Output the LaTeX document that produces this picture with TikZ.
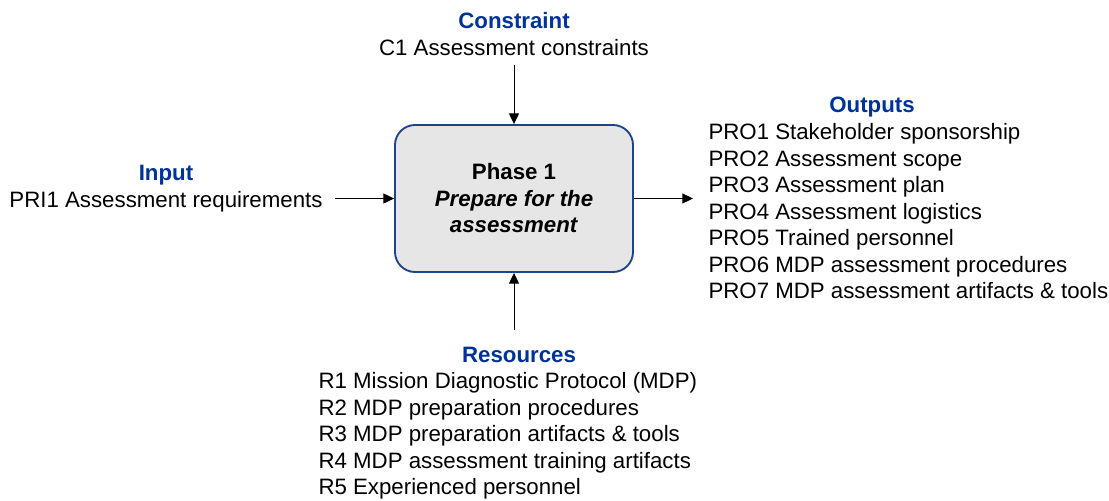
\documentclass[tikz,border=0pt]{standalone}
\usepackage{fontspec}
\setmainfont{Liberation Sans}
\usetikzlibrary{arrows.meta}
\definecolor{headblue}{RGB}{0,51,153}
\definecolor{boxblue}{RGB}{28,68,135}
\definecolor{boxgray}{RGB}{230,230,230}

\tikzset{every picture/.style={line width=0.75pt}}

\begin{document}
\begin{tikzpicture}[x=0.75pt,y=0.75pt,yscale=-1,xscale=1,
	font=\fontsize{16.7}{19.9}\selectfont,
	head/.style={text=headblue, font=\fontsize{16.7}{19.9}\selectfont\bfseries, inner sep=0pt, anchor=base},
	item/.style={inner sep=0pt, anchor=base},
	itemlist/.style={inner sep=0pt, anchor=north west, align=left},
	phasebox/.style={draw=boxblue, fill=boxgray, line width=1.4pt, rounded corners=15pt, minimum width=178.5pt, minimum height=110.25pt, align=center, inner sep=0pt},
	flow/.style={-{Triangle[length=8pt,width=7.5pt]}}]
	\useasboundingbox (0,0) rectangle (1109,500);

	% Phase box
	\node[phasebox] (phase) at (514,198.5) {\textbf{Phase 1}\\\textbf{\textit{Prepare for the}}\\\textbf{\textit{assessment}}};

	% Text Node
	\node[head] (conhead) at (514,28) {Constraint};
	% Text Node
	\node[item] (conlist) at (514,55) {C1 Assessment constraints};
	% Text Node
	\node[head] (inhead) at (166,180) {Input};
	% Text Node
	\node[item] (inlist) at (166,207) {PRI1 Assessment requirements};
	% Text Node
	\node[head] (outhead) at (872,112) {Outputs};
	% Text Node
	\node[itemlist] (outlist) at (708,123) {PRO1 Stakeholder sponsorship\\PRO2 Assessment scope\\PRO3 Assessment plan\\PRO4 Assessment logistics\\PRO5 Trained personnel\\PRO6 MDP assessment procedures\\PRO7 MDP assessment artifacts \& tools};
	% Text Node
	\node[head] (reshead) at (519,362) {Resources};
	% Text Node
	\node[itemlist] (reslist) at (318,372) {R1 Mission Diagnostic Protocol (MDP)\\R2 MDP preparation procedures\\R3 MDP preparation artifacts \& tools\\R4 MDP assessment training artifacts\\R5 Experienced personnel};

	% Straight Lines
	\coordinate (conend) at (514,65);
	\coordinate (inend) at (335,198.5);
	\coordinate (outend) at (693,198.5);
	\coordinate (resend) at (514,330);
	\draw[flow] (conend) -- (phase.north);
	\draw[flow] (inend) -- (phase.west);
	\draw[flow] (phase.east) -- (outend);
	\draw[flow] (resend) -- (phase.south);

\end{tikzpicture}
\end{document}
